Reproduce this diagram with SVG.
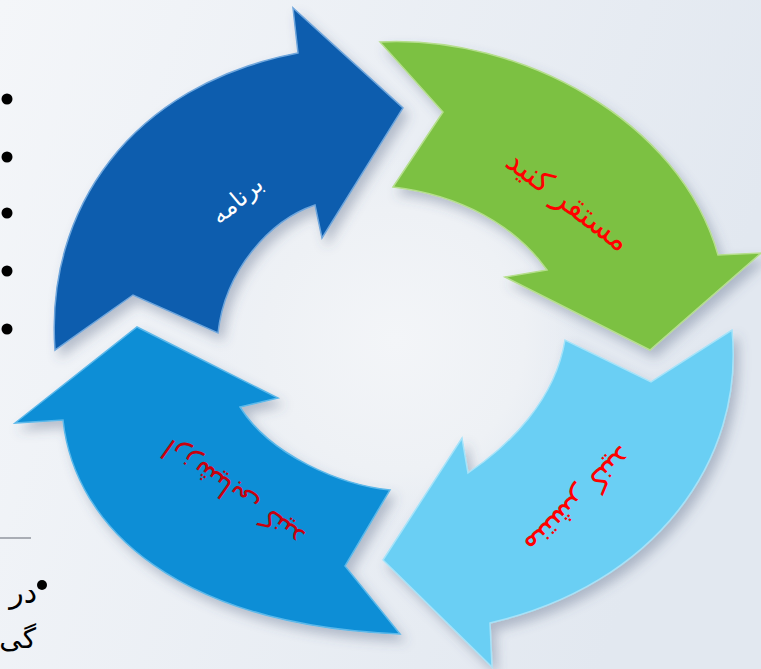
<svg xmlns="http://www.w3.org/2000/svg" width="761" height="669" viewBox="0 0 761 669">
  <defs>
    <linearGradient id="bg" x1="0" y1="0" x2="1" y2="0.3">
      <stop offset="0" stop-color="#f4f6f9"/>
      <stop offset="1" stop-color="#e2e8f0"/>
    </linearGradient>
    <radialGradient id="glow" cx="0.5" cy="0.5" r="0.5">
      <stop offset="0" stop-color="#f3f5f8"/>
      <stop offset="0.7" stop-color="#eef1f5"/>
      <stop offset="1" stop-color="#eef1f5" stop-opacity="0"/>
    </radialGradient>
    <filter id="shadow" x="-20%" y="-20%" width="140%" height="140%">
      <feDropShadow dx="5" dy="7" stdDeviation="6" flood-color="#4a5a78" flood-opacity="0.35"/>
    </filter>
    <style>
      .arrow { filter: url(#shadow); stroke-width: 1.5; stroke-linejoin: miter; }
      .lbl { font-family: "DejaVu Sans", "Noto Sans", sans-serif; text-anchor: middle; }
      .bul { fill: #000; }
      .side { font-family: "DejaVu Sans", "Noto Sans", sans-serif; fill: #000; }
    </style>
  </defs>

  <rect x="0" y="0" width="761" height="669" fill="url(#bg)"/>
  <circle cx="395" cy="340" r="185" fill="url(#glow)"/>

  <!-- left-side bullets and text -->
  <g id="side-text">
    <circle class="bul" cx="7" cy="99" r="5.5"/>
    <circle class="bul" cx="7" cy="157" r="5.5"/>
    <circle class="bul" cx="7" cy="213" r="5.5"/>
    <circle class="bul" cx="7" cy="271" r="5.5"/>
    <circle class="bul" cx="7" cy="329" r="5.5"/>
    <line x1="0" y1="538" x2="31" y2="538" stroke="#7a7f88" stroke-width="1.2"/>
    <circle class="bul" cx="42" cy="585" r="5"/>
    <text class="side" x="37" y="603" font-size="30" text-anchor="end">در</text>
    <text class="side" x="36" y="648" font-size="28" text-anchor="end">گی</text>
  </g>

  <g id="connectors"></g>

  <!-- bottom-left arrow (mid blue) -->
  <g id="node-evaluate">
    <path class="arrow" fill="#0b8ed6" stroke="#5cb8ea"
      d="M 400,634 L 345,566 L 390,490 C 340,485 270,455 240,407 L 278,398 L 137,327 L 15,423 L 63,420 C 75,530 180,625 400,634 Z"/>
    <text class="lbl" font-size="29" fill="#c8000e" transform="translate(233,494) rotate(215)" x="0" y="10">ارزشیابی کنید</text>
  </g>

  <!-- bottom-right arrow (light blue) -->
  <g id="node-publish">
    <path class="arrow" fill="#6bcff4" stroke="#a6e3f9"
      d="M 732,330 C 745,460 655,585 490,623 L 492,667 L 383,560 L 462,438 L 468,473 C 510,445 555,400 565,340 L 651,382 Z"/>
    <text class="lbl" font-size="31" fill="#ff0000" transform="translate(579,501) rotate(135)" x="0" y="10">منتشر کنید</text>
  </g>

  <!-- top-right arrow (green) -->
  <g id="node-deploy">
    <path class="arrow" fill="#7bc143" stroke="#b5de8c"
      d="M 380,42 C 520,35 680,120 718,255 L 761,253 L 650,350 L 505,277 L 547,270 C 515,225 460,195 393,187 L 443,112 Z"/>
    <text class="lbl" font-size="31" fill="#ff0000" transform="translate(568,201) rotate(37)" x="0" y="10">مستقر کنید</text>
  </g>

  <!-- top-left arrow (navy) -->
  <g id="node-plan">
    <path class="arrow" fill="#0b5dae" stroke="#6fa6dc"
      d="M 55,350 C 45,210 130,85 298,53 L 293,8 L 403,108 L 322,238 L 315,205 C 270,220 225,270 218,333 L 133,295 Z"/>
    <text class="lbl" font-size="24" fill="#ffffff" transform="translate(237,200) rotate(-40)" x="0" y="8">برنامه</text>
  </g>
</svg>
